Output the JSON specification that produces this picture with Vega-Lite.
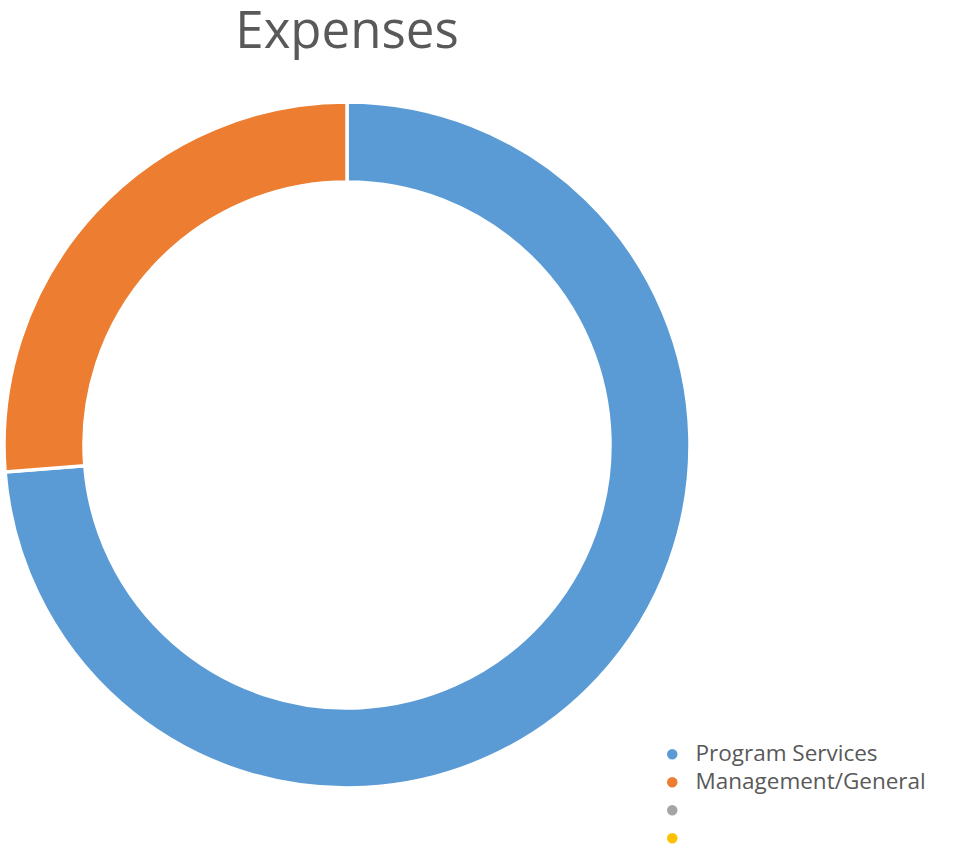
{
  "$schema": "https://vega.github.io/schema/vega-lite/v6.json",
  "autosize": {"type": "none"},
  "width": 694,
  "height": 690,
  "padding": {"left": 0, "top": 100, "right": 269, "bottom": 61},
  "background": "#ffffff",
  "title": {
    "text": "Expenses",
    "font": "Open Sans",
    "fontSize": 51,
    "fontWeight": "normal",
    "color": "#595959",
    "anchor": "middle",
    "baseline": "bottom",
    "offset": -15
  },
  "data": {
    "values": [
      {"category": "Program Services", "amount": 73.75, "rank": 1},
      {"category": "Management/General", "amount": 26.25, "rank": 2}
    ]
  },
  "mark": {"type": "arc", "outerRadius": 343, "innerRadius": 263, "stroke": "#ffffff", "strokeWidth": 3.5},
  "encoding": {
    "theta": {"field": "amount", "type": "quantitative", "stack": true},
    "order": {"field": "rank", "type": "quantitative"},
    "color": {
      "field": "category",
      "type": "nominal",
      "scale": {
        "domain": ["Program Services", "Management/General", " ", "  "],
        "range": ["#5b9bd5", "#ed7d31", "#a5a5a5", "#ffc000"]
      },
      "legend": {
        "title": null,
        "orient": "none",
        "legendX": 661,
        "legendY": 643,
        "symbolType": "circle",
        "symbolSize": 110,
        "symbolStrokeWidth": 0,
        "labelFont": "Open Sans",
        "labelFontSize": 22.5,
        "labelColor": "#595959",
        "labelOffset": 12,
        "rowPadding": 5,
        "labelLimit": 400
      }
    }
  },
  "config": {"view": {"stroke": null}}
}
